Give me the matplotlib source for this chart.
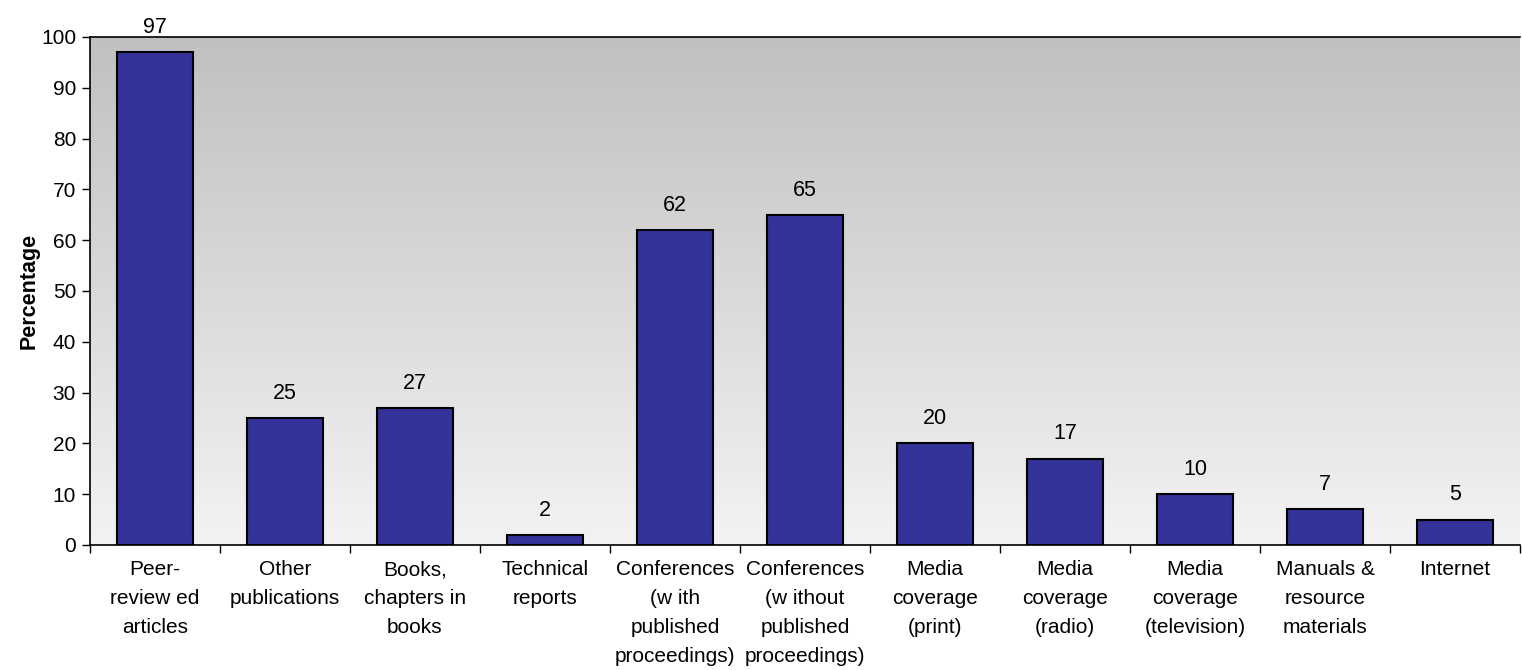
import numpy as np
import matplotlib

matplotlib.use("Agg")
import matplotlib.pyplot as plt

plt.rcParams["font.family"] = ["Liberation Sans", "DejaVu Sans"]

categories = [
    "Peer-\nreview ed\narticles",
    "Other\npublications",
    "Books,\nchapters in\nbooks",
    "Technical\nreports",
    "Conferences\n(w ith\npublished\nproceedings)",
    "Conferences\n(w ithout\npublished\nproceedings)",
    "Media\ncoverage\n(print)",
    "Media\ncoverage\n(radio)",
    "Media\ncoverage\n(television)",
    "Manuals &\nresource\nmaterials",
    "Internet",
]
values = [97, 25, 27, 2, 62, 65, 20, 17, 10, 7, 5]
y_ticks = list(range(0, 101, 10))

fig = plt.figure(figsize=(15.22, 6.70), dpi=100)
ax = fig.add_axes([90 / 1522, 1 - 545 / 670, 1430 / 1522, 508 / 670])

n = len(values)
x = np.arange(n)

# gradient background: gray at top, near white at bottom
grad = np.linspace(0, 1, 256).reshape(-1, 1)
top = np.array([192, 192, 192]) / 255
bot = np.array([243, 243, 243]) / 255
img = top + (bot - top) * grad[:, :, None]
ax.imshow(img, extent=(-0.5, n - 0.5, 0, 100), origin="upper", aspect="auto", zorder=0)

ax.bar(x, values, width=0.58, color="#333399", edgecolor="black", linewidth=1.5, zorder=2)
for xi, v in zip(x, values):
    ax.text(xi, v + 2.8, str(v), ha="center", va="bottom", fontsize=15.5)

ax.set_xlim(-0.5, n - 0.5)
ax.set_ylim(0, 100)
ax.set_yticks(y_ticks)
ax.tick_params(axis="y", labelsize=15, length=6, width=1, direction="out", pad=4)

ax.set_xticks(x)
ax.set_xticklabels(categories, fontsize=15, linespacing=1.65, va="top")
ax.set_xticks(np.arange(-0.5, n, 1), minor=True)
ax.tick_params(axis="x", which="major", length=0, pad=11)
ax.tick_params(axis="x", which="minor", length=6, width=1, direction="out")

for side in ["top", "left", "bottom"]:
    ax.spines[side].set_linewidth(1.2)
ax.spines["right"].set_visible(False)

ax.set_ylabel("Percentage", fontsize=15.5, fontweight="bold", labelpad=1)

fig.savefig("out.png", dpi=100)
